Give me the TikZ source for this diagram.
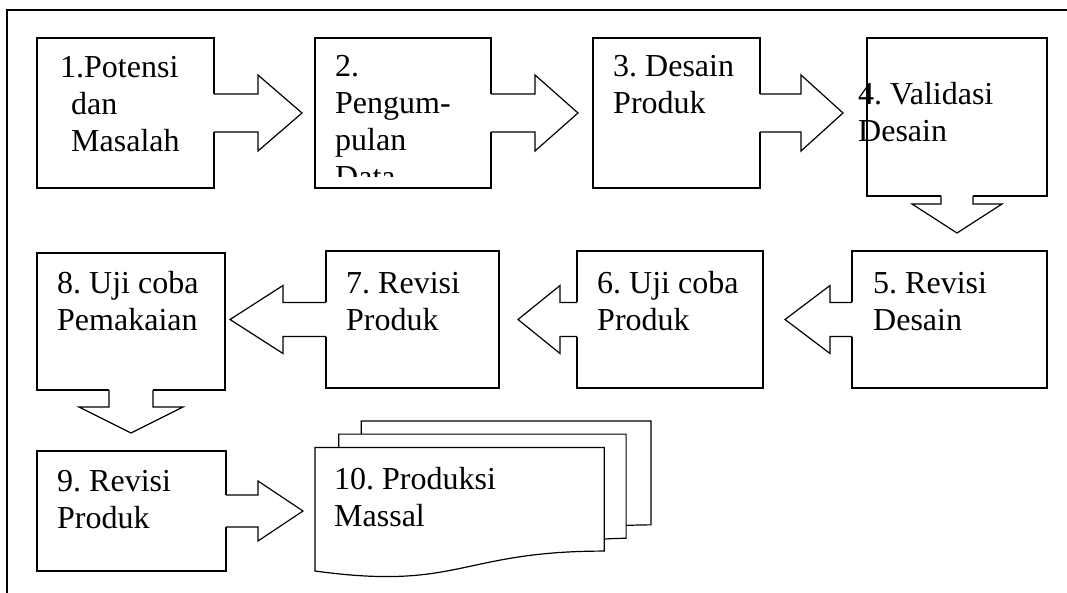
\documentclass[tikz,border=0pt]{standalone}
\usepackage{fontspec}
\setmainfont{Liberation Serif}
% #1 anchor point, #2 direction (+1 right, -1 left), #3 shaft half, #4 head half, #5 shaft length, #6 head length
\newcommand{\harr}[6]{%
  \fill[white] (#1) +({-1.5*(#2)},-#3) rectangle +({(#2)*#5},#3);
  \draw[barrow] (#1) +(0,-#3) -- +({(#2)*#5},-#3) -- +({(#2)*#5},-#4) -- +({(#2)*(#5+#6)},0)
     -- +({(#2)*#5},#4) -- +({(#2)*#5},#3) -- +(0,#3);}
% #1 anchor point, #2 shaft half, #3 head half, #4 shaft length, #5 head length
\newcommand{\varr}[5]{%
  \fill[white] (#1) +(-#2,-1.5) rectangle +(#2,#4);
  \draw[barrow] (#1) +(-#2,0) -- +(-#2,#4) -- +(-#3,#4) -- +(0,{#4+#5})
     -- +(#3,#4) -- +(#2,#4) -- +(#2,0);}
\begin{document}
\frenchspacing
\begin{tikzpicture}[x=1pt,y=-1pt,
  box/.style={draw=black, line width=1.2pt, fill=white, inner sep=0pt, outer sep=0pt, anchor=north west},
  txt/.style={inner sep=0pt, anchor=base west, font=\fontsize{32}{37}\selectfont\frenchspacing},
  barrow/.style={draw=black, line width=1.2pt, line join=miter},
  frame/.style={draw=black, line width=1.2pt},
  doc/.style={draw=black, line width=1.2pt, line join=miter}]
\useasboundingbox (0,0) rectangle (1067,593);
\draw[frame] (7,593) |- (1067,10);

% boxes
\node[box, minimum width=177pt, minimum height=150pt] (b1) at (37,38) {};
\node[box, minimum width=176pt, minimum height=150pt] (b2) at (315,38) {};
\node[box, minimum width=167pt, minimum height=150pt] (b3) at (593,38) {};
\node[box, minimum width=180pt, minimum height=158pt] (b4) at (867,38) {};
\node[box, minimum width=195pt, minimum height=137pt] (b5) at (852,251) {};
\node[box, minimum width=186pt, minimum height=137pt] (b6) at (577,251) {};
\node[box, minimum width=173pt, minimum height=137pt] (b7) at (326,251) {};
\node[box, minimum width=188pt, minimum height=137pt] (b8) at (37,253) {};
\node[box, minimum width=189pt, minimum height=120pt] (b9) at (37,451) {};

% multidocument
\coordinate (b10) at (315,448);
\begin{scope}[shift={(315,421)}, x=1.5556pt, y=-0.72176pt]
  \draw[doc] (29.72,18.15) -- (29.72,0) -- (216,0) -- (216,143.92)
     .. controls (208,143.92) and (200,144.67) .. (200,144.67);
  \draw[doc] (15.32,36.75) -- (15.32,18.15) -- (200,18.15) -- (200,162.52)
     .. controls (192.98,162.52) and (185.95,163.52) .. (185.95,163.52);
  \draw[doc] (0,207.82) .. controls (92.98,235.42) and (92.98,180.22) .. (185.95,180.22)
     -- (185.95,36.75) -- (0,36.75) -- cycle;
\end{scope}

% block arrows
\harr{b1.east}{1}{19}{38}{44}{44}
\harr{b2.east}{1}{19}{38}{44}{43}
\harr{b3.east}{1}{19}{38}{41}{42}
\varr{b4.south}{16}{45}{8}{29}
\harr{b5.west}{-1}{17}{34}{22}{45}
\harr{b6.west}{-1}{17}{34}{17}{42}
\harr{b7.west}{-1}{17}{34}{43}{53}
\varr{b8.south}{22}{52}{17}{26}
\harr{b9.east}{1}{16}{30}{32}{45}

% texts
\node[txt] (t1) at (60,78) {\begin{tabular}[t]{@{}l@{}}1.Potensi\\\hspace{11pt}dan\\\hspace{11pt}Masalah\end{tabular}};
\begin{scope}
  \clip (315,38) rectangle (491,177);
  \node[txt] (t2) at (335,77) {\begin{tabular}[t]{@{}l@{}}2.\\Pengum-\\pulan\\Data\end{tabular}};
\end{scope}
\node[txt] (t3) at (613,77) {\begin{tabular}[t]{@{}l@{}}3. Desain\\Produk\end{tabular}};
\node[txt] (t4) at (858,105) {\begin{tabular}[t]{@{}l@{}}4. Validasi\\Desain\end{tabular}};
\node[txt] (t5) at (873,294) {\begin{tabular}[t]{@{}l@{}}5. Revisi\\Desain\end{tabular}};
\node[txt] (t6) at (597,294) {\begin{tabular}[t]{@{}l@{}}6. Uji coba\\Produk\end{tabular}};
\node[txt] (t7) at (346,294) {\begin{tabular}[t]{@{}l@{}}7. Revisi\\Produk\end{tabular}};
\node[txt] (t8) at (57,294) {\begin{tabular}[t]{@{}l@{}}8. Uji coba\\Pemakaian\end{tabular}};
\node[txt] (t9) at (57,491) {\begin{tabular}[t]{@{}l@{}}9. Revisi\\Produk\end{tabular}};
\node[txt] (t10) at (334,489) {\begin{tabular}[t]{@{}l@{}}10. Produksi\\Massal\end{tabular}};
\end{tikzpicture}
\end{document}
